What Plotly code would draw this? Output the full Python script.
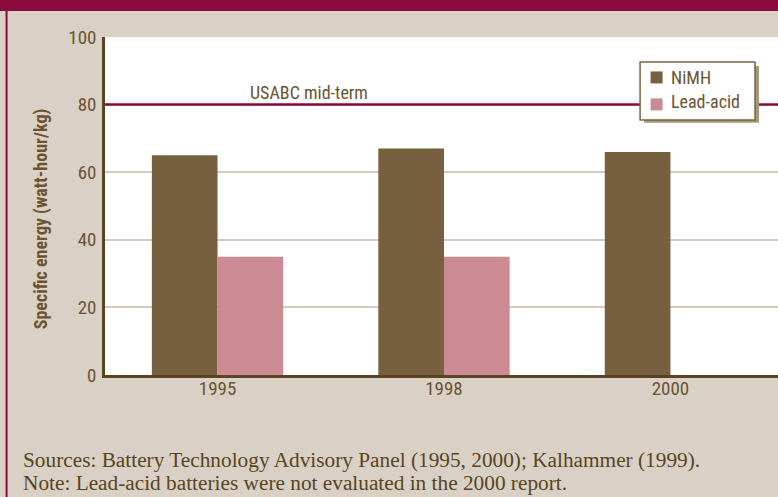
import plotly.graph_objects as go

years = ["1995", "1998", "2000"]
nimh = [65, 67, 66]
lead_acid = [35, 35, None]
series_names = ["NiMH", "Lead-acid"]
usabc_target = 80
usabc_label = "USABC mid-term"
y_ticks = [0, 20, 40, 60, 80, 100]
caption1 = "Sources: Battery Technology Advisory Panel (1995, 2000); Kalhammer (1999)."
caption2 = "Note: Lead-acid batteries were not evaluated in the 2000 report."

BG = "#d9d1c6"
CRIMSON = "#8a0a3c"
BROWN_TXT = "#6b5430"
AXIS = "#5a4420"
NIMH_C = "#76603f"
LEAD_C = "#cb8a94"
GRID = "#d5cabb"
SANS = "Liberation Sans Narrow, Roboto Condensed, Arial Narrow, Roboto, sans-serif"
SERIF = "Liberation Serif, Times New Roman, serif"

W, H = 778, 497
L, R, T, B = 104.5, 0, 37, 121.5
PW, PH = W - L - R, H - T - B

def px(x):
    return (x - L) / PW

def py(y):
    return (H - B - y) / PH

fig = go.Figure()
fig.add_bar(x=years, y=nimh, name=series_names[0], marker=dict(color=NIMH_C, line=dict(width=0)))
fig.add_bar(x=years, y=lead_acid, name=series_names[1], marker=dict(color=LEAD_C, line=dict(width=0)))

def prect(x0, y0, x1, y1, fill, line=None):
    return dict(type="rect", xref="paper", yref="paper", x0=px(x0), x1=px(x1), y0=py(y1), y1=py(y0),
                fillcolor=fill, line=line or dict(width=0), layer="above")

shapes = [
    dict(type="line", xref="paper", yref="y", x0=0, x1=1, y0=usabc_target, y1=usabc_target,
         line=dict(color=CRIMSON, width=2.5), layer="above"),
    prect(-5, -5, W + 5, 11, CRIMSON),
    prect(5, -5, 7, H + 5, CRIMSON),
    # legend shadow + box
    prect(644, 66, 759, 123, "#a8977a"),
    prect(640, 62, 755, 120, "white", dict(color="#7a6440", width=1.5)),
    # legend swatches
    prect(650.5, 71.5, 662.5, 83.5, NIMH_C),
    prect(650.5, 98.5, 662.5, 110.5, LEAD_C),
]

annotations = [
    dict(text=usabc_label, xref="paper", yref="y", x=px(248), y=usabc_target, xanchor="left",
         yanchor="bottom", yshift=0, showarrow=False, font=dict(family=SANS, size=18, color=BROWN_TXT)),
    dict(text="<b>Specific energy (watt-hour/kg)</b>", xref="paper", yref="paper", x=px(40), y=py(219),
         textangle=-90, showarrow=False, xanchor="center", yanchor="middle",
         font=dict(family=SANS, size=18, color=BROWN_TXT)),
    dict(text=series_names[0], xref="paper", yref="paper", x=px(669), y=py(78), xanchor="left",
         yanchor="middle", showarrow=False, font=dict(family=SANS, size=18, color=BROWN_TXT)),
    dict(text=series_names[1], xref="paper", yref="paper", x=px(669), y=py(102), xanchor="left",
         yanchor="middle", showarrow=False, font=dict(family=SANS, size=18, color=BROWN_TXT)),
    dict(text=caption1, xref="paper", yref="paper", x=px(20), y=py(461), xanchor="left", yanchor="middle",
         showarrow=False, font=dict(family=SERIF, size=21.3, color=AXIS)),
    dict(text=caption2, xref="paper", yref="paper", x=px(20), y=py(484), xanchor="left", yanchor="middle",
         showarrow=False, font=dict(family=SERIF, size=21.3, color=AXIS)),
]

fig.update_layout(
    width=W, height=H,
    margin=dict(l=L, r=R, t=T, b=B, pad=0),
    paper_bgcolor=BG, plot_bgcolor="white",
    barmode="group", bargap=0.42, bargroupgap=0,
    showlegend=False,
    shapes=shapes, annotations=annotations,
    xaxis=dict(type="category", range=[-0.497, 2.475], showgrid=False, showline=True,
               linecolor=AXIS, linewidth=2.5, ticks="", ticklabelstandoff=-6,
               tickfont=dict(family=SANS, size=19, color=BROWN_TXT), fixedrange=True),
    yaxis=dict(range=[0, 100], tickvals=y_ticks, showgrid=True, gridcolor=GRID, gridwidth=1.5,
               showline=True, linecolor=AXIS, linewidth=2.5, zeroline=False, ticks="",
               ticklabelstandoff=2,
               tickfont=dict(family=SANS, size=19, color=BROWN_TXT), fixedrange=True),
)

fig.write_html("out.html", config={"displayModeBar": False},
               post_script="document.body.style.margin='0';")
